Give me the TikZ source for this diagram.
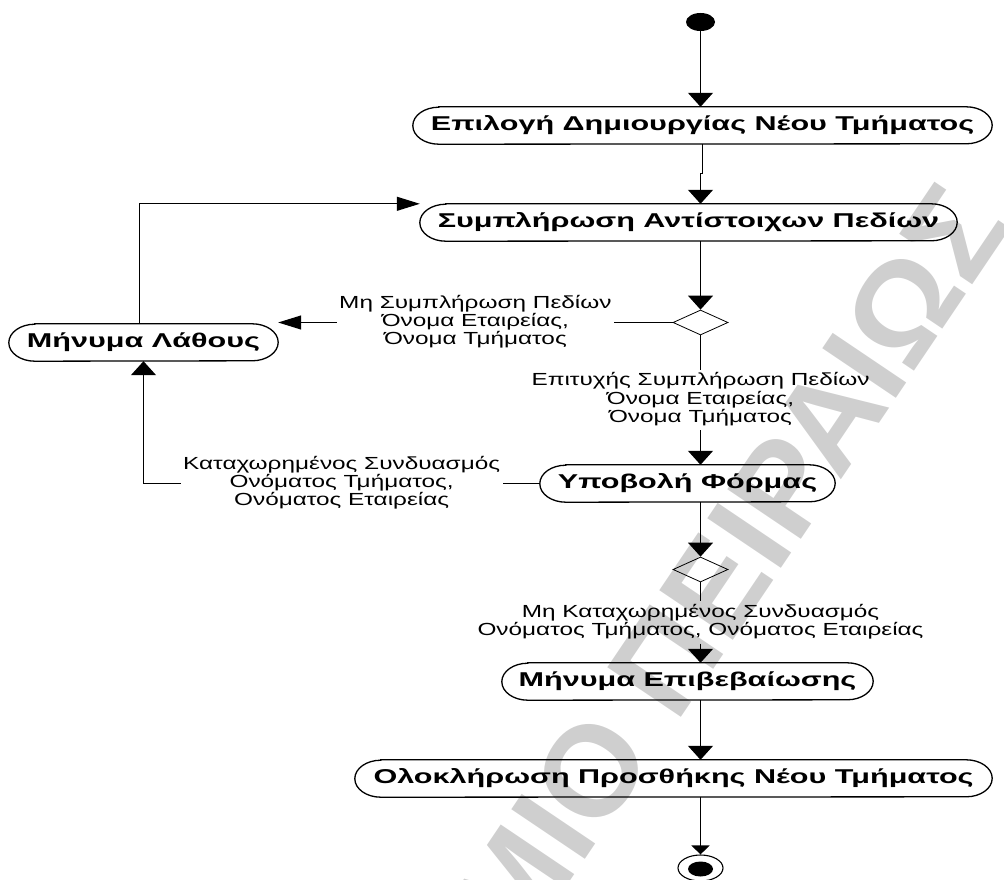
\documentclass[tikz,border=0pt]{standalone}
\usepackage{fontspec}
\setmainfont{Liberation Sans}
\usepackage{graphicx}
\usetikzlibrary{arrows.meta,shapes.geometric,calc}

\newlength\wrefb
\newlength\wrefl
\newcommand\bfnt{\fontsize{20}{22}\selectfont\bfseries}
\newcommand\lfnt{\fontsize{17.5}{17.5}\selectfont}
\newcommand\wmfnt{\fontsize{129}{129}\selectfont\bfseries}

\tikzset{
  conn/.style={line width=1.1pt},
  vtip/.style={conn, -{Triangle[width=25pt,length=14pt]}},
  htip/.style={conn, -{Triangle[width=14pt,length=23pt]}},
  stip/.style={conn, -{Triangle[width=18pt,length=9pt]}},
  boxtext/.style={rectangle, inner sep=0pt, minimum height=37pt, font=\bfnt},
  guard/.style={inner sep=2.5pt, font=\lfnt},
  choice/.style={diamond, draw, line width=0.8pt, aspect=2.2, inner sep=0pt,
                 minimum width=55pt, minimum height=25pt},
  wm/.style={inner sep=0pt, font=\wmfnt, text=black!19, rotate=56},
}

% activity: name, centre x, centre y (downwards), width, label
\newcommand\actbox[5]{%
  \node[boxtext, minimum width=#4pt] (#1) at (#2,-#3) {\scalebox{\sxb}[1]{#5}};
  \draw[line width=1.3pt] ([xshift=26pt]#1.north west) -- ([xshift=-26pt]#1.north east)
    arc[start angle=90, end angle=-90, x radius=26pt, y radius=18.5pt]
    -- ([xshift=26pt]#1.south west)
    arc[start angle=270, end angle=90, x radius=26pt, y radius=18.5pt] -- cycle;}

% guard text, centred lines
\newcommand\lbl[1]{\scalebox{\sxl}[1]{\begin{tabular}{@{}c@{}}#1\end{tabular}}}

\begin{document}
\settowidth\wrefb{\bfnt Ολοκλήρωση Προσθήκης Νέου Τμήματος}%
\settowidth\wrefl{\lfnt Ονόματος Τμήματος, Ονόματος Εταιρείας}%
\pgfmathsetmacro\sxb{600/\wrefb}%
\pgfmathsetmacro\sxl{446/\wrefl}%
\begin{tikzpicture}[x=1pt,y=1pt]
  \useasboundingbox (0,0) rectangle (1004,-880);
  \clip (0,0) rectangle (1004,-880);

  % background lettering
  \coordinate (wmref) at (580,-867);
  \node[wm, anchor=base east] (wma) at (wmref) {ΠΑΝΕΠΙΣΤΗΜ};
  \node[wm, anchor=base west] (wmb) at (wmref) {ΙΟ ΠΕΙΡΑΙΩΣ};

  % initial and final states
  \node[ellipse, fill=black, inner sep=0pt, minimum width=29pt, minimum height=18pt] (start) at (700.5,-22) {};
  \node[ellipse, draw, line width=1.1pt, inner sep=0pt, minimum width=45pt, minimum height=26pt] (stop) at (700.5,-868) {};
  \node[ellipse, fill=black, inner sep=0pt, minimum width=25pt, minimum height=15pt] (stopdot) at (700.5,-869) {};

  % activities
  \actbox{b1}{702.5}{125.5}{579}{Επιλογή Δημιουργίας Νέου Τμήματος}
  \actbox{b2}{688.5}{222.5}{537}{Συμπλήρωση Αντίστοιχων Πεδίων}
  \actbox{err}{143.5}{342.5}{269}{Μήνυμα Λάθους}
  \actbox{sub}{687.5}{483.5}{295}{Υποβολή Φόρμας}
  \actbox{conf}{687.5}{681.5}{371}{Μήνυμα Επιβεβαίωσης}
  \actbox{done}{673.5}{778.5}{637}{Ολοκλήρωση Προσθήκης Νέου Τμήματος}

  % decisions
  \node[choice] (d1) at (700.5,-322.5) {};
  \node[choice] (d2) at (700.5,-569.5) {};

  % guards
  \node[guard] (g1) at ($(d1.west)!0.5!(d1.west -| err.east)$)
    {\lbl{Μη Συμπλήρωση Πεδίων\\Όνομα Εταιρείας,\\Όνομα Τμήματος}};
  \node[guard] (g2) at ($(d1.south)!0.5!(sub.north -| d1)$)
    {\lbl{Επιτυχής Συμπλήρωση Πεδίων\\Όνομα Εταιρείας,\\Όνομα Τμήματος}};
  \node[guard] (g3) at ($(d2.south)!0.5!(conf.north -| d2)$)
    {\lbl{Μη Καταχωρημένος Συνδυασμός\\Ονόματος Τμήματος, Ονόματος Εταιρείας}};
  \coordinate (c4) at (err.south |- sub.west);
  \node[guard] (g4) at ($(sub.west)!0.5!(c4)$)
    {\lbl{Καταχωρημένος Συνδυασμός\\Ονόματος Τμήματος,\\Ονόματος Εταιρείας}};

  % flows
  \draw[vtip] (start) -- (b1.north -| start);
  \draw[vtip] (b1.south) -- ++(0,-29) -| (b2.north -| start);
  \draw[vtip] (b2.south -| start) -- (d1.north);
  \draw[htip] (d1.west) -- (g1) -- (d1.west -| err.east);
  \draw[vtip] (d1.south) -- (g2) -- (sub.north -| d1);
  \draw[vtip] (sub.west) -- (g4) -- (c4) -- (err.south);
  \draw[htip] ([xshift=-4pt]err.north) |- (b2.north west);
  \draw[vtip] (sub.south -| start) -- (d2.north);
  \draw[vtip] (d2.south) -- (g3) -- (conf.north -| d2);
  \draw[vtip] (conf.south -| start) -- (done.north -| start);
  \draw[stip] (done.south -| start) -- (stop.north);
\end{tikzpicture}
\end{document}
